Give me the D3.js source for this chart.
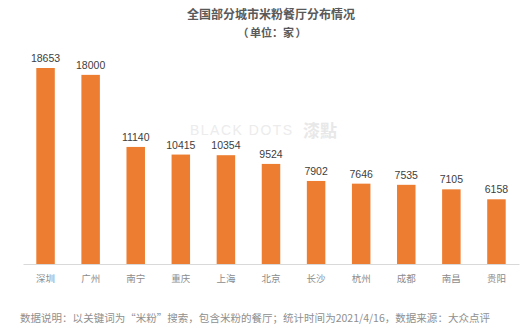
<!DOCTYPE html>
<html><head><meta charset="utf-8">
<script src="https://cdn.jsdelivr.net/npm/d3@7"></script>
<style>body{margin:0;background:#fff}svg{display:block}</style>
</head><body>
<svg id="c" width="524" height="331"></svg>
<script>
const categories = ["深圳","广州","南宁","重庆","上海","北京","长沙","杭州","成都","南昌","贵阳"];
const values = [18653,18000,11140,10415,10354,9524,7902,7646,7535,7105,6158];
const title = "全国部分城市米粉餐厅分布情况";
const subtitleParts = ["（", "单位：家", "）"];
const note = "数据说明：以关键词为“米粉”搜索，包含米粉的餐厅；统计时间为2021/4/16，数据来源：大众点评";

const svg = d3.select("#c");
const font = "'Noto Sans CJK SC', 'Liberation Sans', sans-serif";
const x = d3.scaleBand().domain(categories).range([23, 519]).paddingInner(0.59).paddingOuter(0.295);
const y = d3.scaleLinear().domain([0, 18653]).range([264, 68]);

// watermark
svg.append("text").attr("x", 190).attr("y", 135).attr("font-family", "'Liberation Sans',sans-serif")
  .attr("font-size", 14).attr("letter-spacing", 1.5).attr("fill", "#ececec").text("BLACK DOTS");
svg.append("text").attr("x", 303).attr("y", 137).attr("font-family", font).attr("font-weight", "bold")
  .attr("font-size", 17).attr("fill", "#e8e8e8").text("漆點");

svg.append("text").attr("x", 271).attr("y", 19).attr("text-anchor", "middle")
  .attr("font-family", font).attr("font-weight", "bold").attr("font-size", 12).attr("fill", "#595959").text(title);
const sub = svg.append("g").attr("font-family", font).attr("font-weight", "bold")
  .attr("font-size", 11).attr("fill", "#595959");
sub.append("text").attr("x", 243).attr("y", 37).attr("text-anchor", "middle").text(subtitleParts[0]);
sub.append("text").attr("x", 272).attr("y", 37).attr("text-anchor", "middle").text(subtitleParts[1]);
sub.append("text").attr("x", 301).attr("y", 37).attr("text-anchor", "middle").text(subtitleParts[2]);

svg.selectAll("rect.bar").data(values).join("rect").attr("class", "bar")
  .attr("x", (d, i) => x(categories[i])).attr("width", x.bandwidth())
  .attr("y", d => y(d)).attr("height", d => y(0) - y(d)).attr("fill", "#ED7D31");

svg.selectAll("text.val").data(values).join("text").attr("class", "val")
  .attr("x", (d, i) => x(categories[i]) + x.bandwidth() / 2).attr("y", d => y(d) - 6)
  .attr("text-anchor", "middle").attr("font-family", "'Liberation Sans',sans-serif")
  .attr("font-size", 10.5).attr("fill", "#404040").text(d => d);

const axis = svg.append("g").attr("transform", "translate(0,264)")
  .call(d3.axisBottom(x).tickSize(0).tickPadding(11));
axis.select(".domain").attr("stroke", "#d9d9d9");
axis.selectAll("text").attr("font-family", font).attr("font-size", 9.5).attr("fill", "#8c8c8c");

svg.append("text").attr("x", 20).attr("y", 322).attr("font-family", font)
  .attr("font-size", 10.5).attr("fill", "#8f8f8f").attr("textLength", 470).attr("lengthAdjust", "spacingAndGlyphs").text(note);
</script>
</body></html>
